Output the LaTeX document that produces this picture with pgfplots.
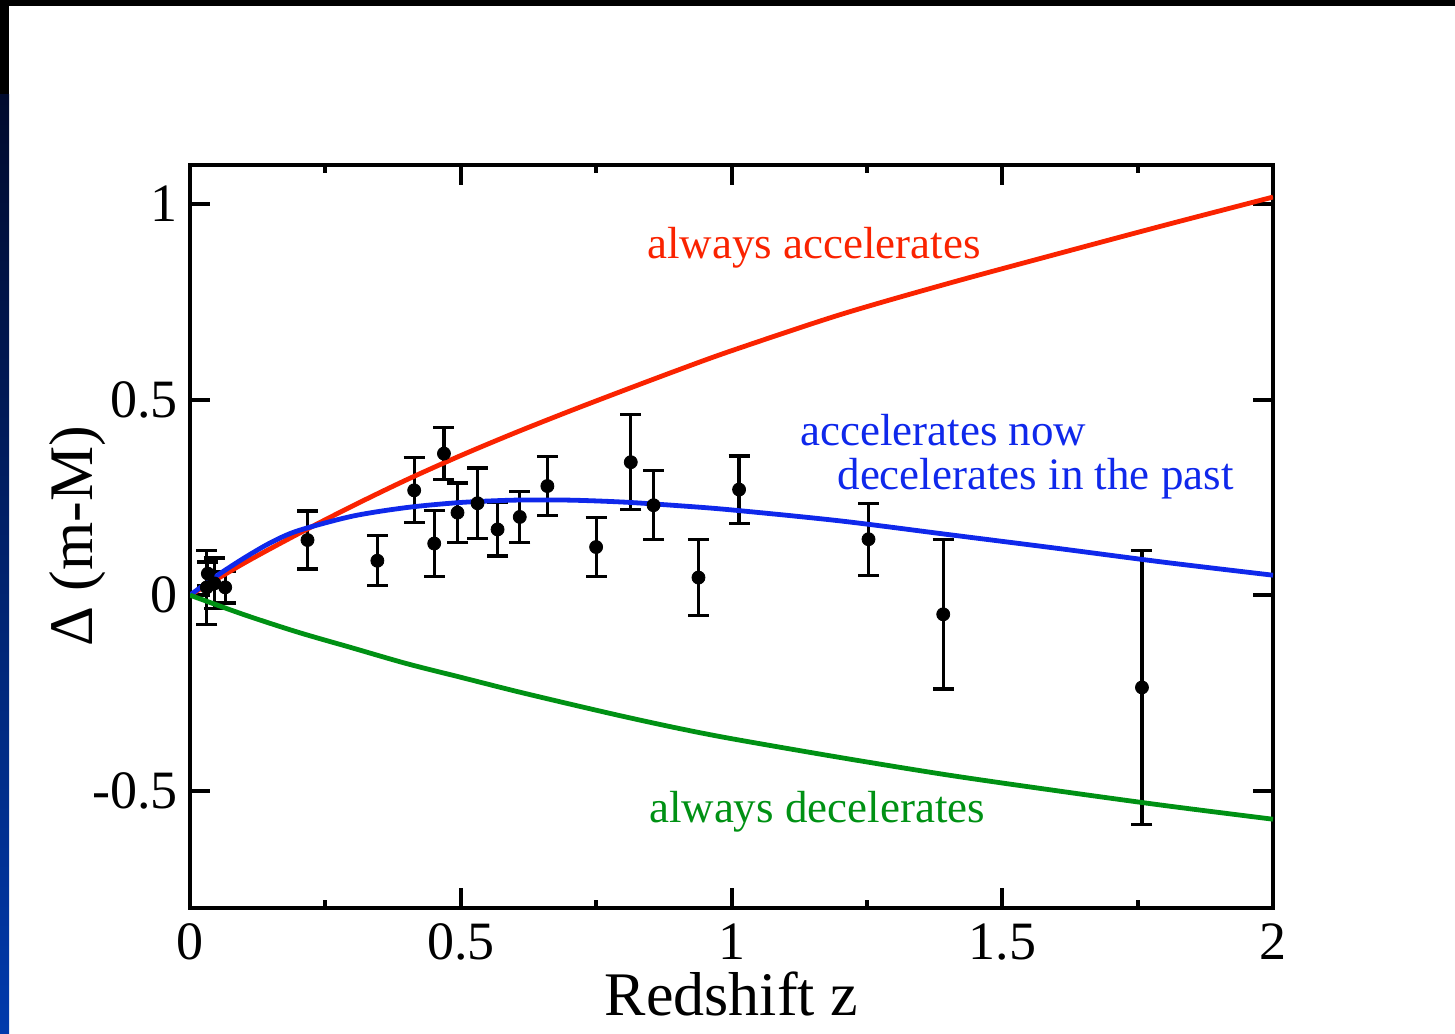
\documentclass[border=0pt]{standalone}
\usepackage{fontspec}
\setmainfont{Liberation Serif}
\usepackage{pgfplots}
\pgfplotsset{compat=1.18}

\definecolor{accred}{RGB}{250,35,0}
\definecolor{accblue}{RGB}{15,40,235}
\definecolor{decgreen}{RGB}{0,145,20}
\definecolor{slideblue}{RGB}{0,58,172}
\definecolor{slidenavy}{RGB}{0,10,45}

\begin{document}
\begin{tikzpicture}[x=1pt,y=1pt]
% slide background (white page, black top strip, blue left strip)
\fill[white] (0,0) rectangle (727.5,516.5);
\fill[black] (0,513.5) rectangle (727.5,516.5);
\fill[black] (0,469) rectangle (4.5,516.5);
\shade[top color=slidenavy, bottom color=slideblue] (0,0) rectangle (4.5,469);

\begin{axis}[
    at={(95pt,62.5pt)}, anchor=south west,
    scale only axis, width=541.5pt, height=371.5pt,
    xmin=0, xmax=2, ymin=-0.8, ymax=1.1,
    xtick={0,0.5,1,1.5,2}, ytick={-0.5,0,0.5,1},
    minor x tick num=1,
    tick align=inside,
    major tick length=10pt, minor tick length=4pt,
    axis line style={line width=2pt},
    tick style={black, line width=2pt},
    /pgf/number format/assume math mode=true,
    ticklabel style={font=\fontsize{27}{27}\selectfont},
    xticklabel style={inner sep=7.5pt},
    yticklabel style={inner sep=6pt},
    xlabel={Redshift z},
    ylabel={Δ (m-M)},
    every axis x label/.style={at={(axis description cs:0.5,-0.116)}, anchor=center,
        font=\fontsize{31}{31}\selectfont},
    every axis y label/.style={at={(axis description cs:-0.104,0.5)}, anchor=center, rotate=90,
        font=\fontsize{31}{31}\selectfont},
]

% supernova data
\addplot[only marks, mark=*, mark size=3.25pt, black,
    error bars/.cd, y dir=both, y explicit,
    error bar style={line width=1.6pt, black},
    error mark options={rotate=90, line width=1.6pt, mark size=5.25pt, black}]
coordinates {
    (0.031, 0.020) +- (0, 0.095)
    (0.033, 0.055) +- (0, 0.030)
    (0.045, 0.030) +- (0, 0.065)
    (0.065, 0.020) +- (0, 0.040)
    (0.217, 0.141) +- (0, 0.074)
    (0.346, 0.088) +- (0, 0.064)
    (0.414, 0.268) +- (0, 0.083)
    (0.469, 0.362) +- (0, 0.067)
    (0.451, 0.132) +- (0, 0.085)
    (0.494, 0.211) +- (0, 0.076)
    (0.531, 0.235) +- (0, 0.090)
    (0.568, 0.168) +- (0, 0.068)
    (0.609, 0.200) +- (0, 0.066)
    (0.660, 0.279) +- (0, 0.075)
    (0.750, 0.123) +- (0, 0.075)
    (0.814, 0.340) +- (0, 0.121)
    (0.856, 0.230) +- (0, 0.088)
    (0.939, 0.045) +- (0, 0.098)
    (1.014, 0.270) +- (0, 0.086)
    (1.253, 0.143) +- (0, 0.092)
    (1.391, -0.049) +- (0, 0.191)
    (1.758, -0.236) +- (0, 0.350)
};

% always accelerates
\addplot[accred, line width=2.4pt, smooth] coordinates {
    (0,0) (0.1,0.082) (0.2,0.157) (0.3,0.228) (0.4,0.295) (0.5,0.357)
    (0.6,0.415) (0.7,0.470) (0.8,0.523) (0.9,0.575) (1.0,0.625)
    (1.2,0.717) (1.4,0.797) (1.6,0.872) (1.8,0.946) (2.0,1.018)
};

% accelerates now, decelerated in the past
\addplot[accblue, line width=2.4pt, smooth] coordinates {
    (0,0) (0.05,0.050) (0.1,0.095) (0.15,0.135) (0.2,0.165) (0.3,0.202)
    (0.4,0.224) (0.5,0.237) (0.6,0.243) (0.7,0.243) (0.8,0.238)
    (0.9,0.229) (1.0,0.218) (1.2,0.190) (1.4,0.155) (1.6,0.120)
    (1.8,0.084) (2.0,0.051)
};

% always decelerates
\addplot[decgreen, line width=2.4pt, smooth] coordinates {
    (0,0) (0.1,-0.050) (0.2,-0.095) (0.3,-0.135) (0.4,-0.175) (0.5,-0.210)
    (0.6,-0.245) (0.7,-0.278) (0.8,-0.310) (0.9,-0.340) (1.0,-0.367)
    (1.2,-0.415) (1.4,-0.460) (1.6,-0.500) (1.8,-0.538) (2.0,-0.573)
};

\node[accred, anchor=base, inner sep=0pt, font=\fontsize{22.5}{22.5}\selectfont]
    at (axis cs:1.152,0.862) {always accelerates};
\node[accblue, anchor=base west, inner sep=0pt, font=\fontsize{22.5}{22.5}\selectfont]
    at (axis cs:1.1265,0.383) {accelerates now};
\node[accblue, anchor=base west, inner sep=0pt, font=\fontsize{22.5}{22.5}\selectfont]
    at (axis cs:1.195,0.270) {decelerates in the past};
\node[decgreen, anchor=base, inner sep=0pt, font=\fontsize{22.5}{22.5}\selectfont]
    at (axis cs:1.158,-0.582) {always decelerates};
\end{axis}
\end{tikzpicture}
\end{document}
